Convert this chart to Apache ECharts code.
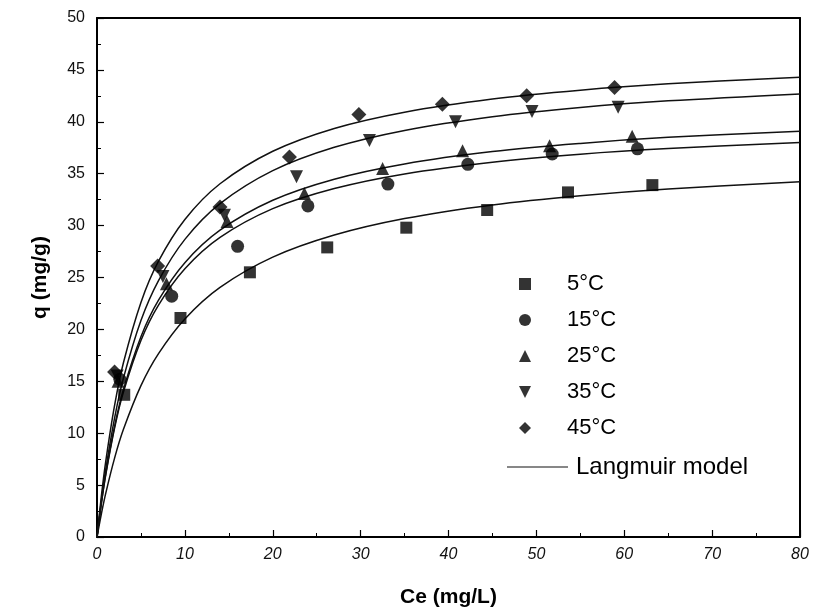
<!DOCTYPE html>
<html>
<head>
<meta charset="utf-8">
<script src="https://cdn.jsdelivr.net/npm/echarts@6/dist/echarts.min.js"></script>
<style>
  html, body { margin: 0; padding: 0; background: #fff; }
  #chart { width: 816px; height: 613px; }
</style>
</head>
<body>
<div id="chart"></div>
<script>
// Measured adsorption points (Ce in mg/L, q in mg/g) at each temperature
var temps = ['5°C', '15°C', '25°C', '35°C', '45°C'];
var obs5  = [[3.1,13.7],[9.5,21.1],[17.4,25.5],[26.2,27.9],[35.2,29.8],[44.4,31.5],[53.6,33.2],[63.2,33.9]];
var obs15 = [[2.6,15.2],[8.5,23.2],[16.0,28.0],[24.0,31.9],[33.1,34.0],[42.2,35.9],[51.8,36.9],[61.5,37.4]];
var obs25 = [[2.4,15.0],[7.9,24.4],[14.8,30.4],[23.6,33.1],[32.5,35.5],[41.6,37.2],[51.5,37.7],[60.9,38.6]];
var obs35 = [[2.3,15.5],[7.5,25.1],[14.5,31.0],[22.7,34.7],[31.0,38.2],[40.8,40.0],[49.5,41.0],[59.3,41.4]];
var obs45 = [[2.0,15.9],[6.9,26.1],[14.0,31.8],[21.9,36.6],[29.8,40.7],[39.3,41.7],[48.9,42.5],[58.9,43.3]];

// Langmuir model curves, sampled along Ce
var ceFit  = [0, 0.5, 1, 2, 3, 5, 7, 10, 14, 20, 27, 35, 45, 55, 65, 80];
var fit5   = [0, 2.24, 4.23, 7.60, 10.35, 14.58, 17.67, 21.01, 24.05, 26.96, 29.09, 30.68, 31.99, 32.88, 33.53, 34.22];
var fit15  = [0, 3.25, 6.02, 10.50, 13.95, 18.93, 22.34, 25.84, 28.86, 31.63, 33.57, 34.98, 36.11, 36.88, 37.42, 38.00];
var fit25  = [0, 3.29, 6.10, 10.65, 14.18, 19.29, 22.81, 26.43, 29.56, 32.44, 34.47, 35.94, 37.13, 37.92, 38.50, 39.10];
var fit35  = [0, 3.53, 6.55, 11.46, 15.28, 20.85, 24.70, 28.67, 32.11, 35.29, 37.54, 39.17, 40.49, 41.38, 42.02, 42.69];
var fit45  = [0, 3.96, 7.31, 12.67, 16.76, 22.60, 26.57, 30.59, 34.03, 37.16, 39.36, 40.93, 42.20, 43.05, 43.66, 44.30];

var observed = [obs5, obs15, obs25, obs35, obs45];
var fits = [fit5, fit15, fit25, fit35, fit45];
var modelName = 'Langmuir model';

var downTri = 'path://M0,0 L10,0 L5,10 Z';
var symbols = ['rect', 'circle', 'triangle', downTri, 'diamond'];
var symSizes = [12, 13, 13, 13, 15];

function pairs(xs, ys) {
  return xs.map(function (x, i) { return [x, ys[i]]; });
}

var series = [];
fits.forEach(function (f, i) {
  series.push({
    name: i === 0 ? modelName : modelName + ' ' + temps[i],
    type: 'line',
    data: pairs(ceFit, f),
    smooth: 0.35,
    showSymbol: false,
    symbol: 'none',
    lineStyle: { color: '#111', width: 1.5 },
    itemStyle: { color: '#111' },
    z: 2
  });
});
observed.forEach(function (d, i) {
  series.push({
    name: temps[i],
    type: 'scatter',
    data: d,
    symbol: symbols[i],
    symbolSize: symSizes[i],
    itemStyle: { color: '#000' },
    z: 3
  });
});

var font = 'Arial, "Liberation Sans", sans-serif';
var chart = echarts.init(document.getElementById('chart'), null, { renderer: 'canvas' });
chart.setOption({
  backgroundColor: '#fff',
  animation: false,
  grid: { left: 97, right: 16, top: 18, bottom: 72, containLabel: false },
  xAxis: [{
    type: 'value', min: 0, max: 80, interval: 10,
    name: 'Ce (mg/L)', nameLocation: 'middle', nameGap: 50,
    nameTextStyle: { fontFamily: font, fontSize: 21, fontWeight: 'bold', color: '#000' },
    axisLine: { show: true, onZero: false, lineStyle: { color: '#000', width: 2 } },
    axisTick: { show: true, inside: true, length: 7, lineStyle: { color: '#000', width: 1.2 } },
    minorTick: { show: true, splitNumber: 2, length: 4, lineStyle: { color: '#000', width: 1 } },
    axisLabel: { fontFamily: font, fontSize: 16, color: '#111', margin: 10, fontStyle: 'italic' },
    splitLine: { show: false }
  }, {
    type: 'value', min: 0, max: 80, position: 'top',
    axisLine: { show: true, onZero: false, lineStyle: { color: '#000', width: 2 } },
    axisTick: { show: false }, axisLabel: { show: false }, splitLine: { show: false }
  }],
  yAxis: [{
    type: 'value', min: 0, max: 50, interval: 5,
    name: 'q (mg/g)', nameLocation: 'middle', nameGap: 46, nameRotate: 90,
    nameTextStyle: { fontFamily: font, fontSize: 21, fontWeight: 'bold', color: '#000' },
    axisLine: { show: true, onZero: false, lineStyle: { color: '#000', width: 2 } },
    axisTick: { show: true, inside: true, length: 7, lineStyle: { color: '#000', width: 1.2 } },
    minorTick: { show: true, splitNumber: 2, length: 4, lineStyle: { color: '#000', width: 1 } },
    axisLabel: { fontFamily: font, fontSize: 16, color: '#111', margin: 12 },
    splitLine: { show: false }
  }, {
    type: 'value', min: 0, max: 50, position: 'right',
    axisLine: { show: true, onZero: false, lineStyle: { color: '#000', width: 2 } },
    axisTick: { show: false }, axisLabel: { show: false }, splitLine: { show: false }
  }],
  legend: [{
    orient: 'vertical',
    left: 514, top: 267,
    itemWidth: 12, itemHeight: 12,
    itemGap: 12,
    data: temps.map(function (t, i) { return { name: t, icon: symbols[i] }; }),
    textStyle: { fontFamily: font, fontSize: 22, color: '#000', lineHeight: 24, padding: [0, 0, 0, 31] },
    itemStyle: { color: '#000' },
    selectedMode: false
  }, {
    orient: 'vertical',
    left: 502, top: 449,
    itemWidth: 61, itemHeight: 14,
    data: [{ name: modelName, icon: 'path://M0,7 L61,7 L61,8 L0,8 Z' }],
    textStyle: { fontFamily: font, fontSize: 24, color: '#000', lineHeight: 26, padding: [0, 0, 0, 3] },
    selectedMode: false
  }],
  series: series
});
</script>
</body>
</html>
